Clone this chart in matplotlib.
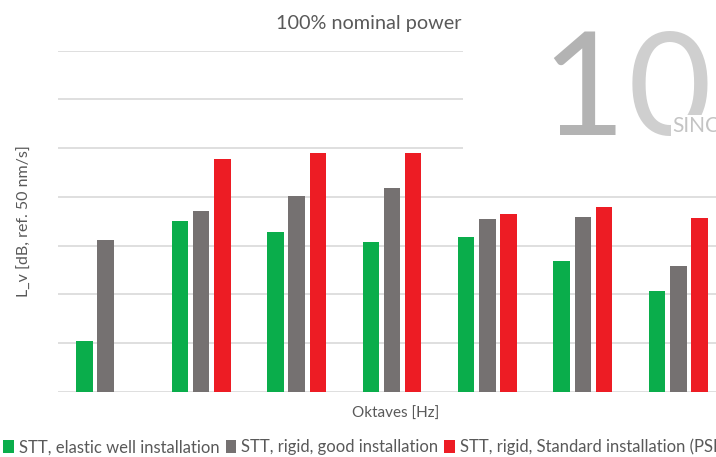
import numpy as np
import matplotlib
matplotlib.use('Agg')
from matplotlib import pyplot as plt
from matplotlib.patches import Rectangle

plt.rcParams['font.family'] = ['Lato', 'DejaVu Sans']

octaves = ['63', '125', '250', '500', '1000', '2000', '4000']
elastic_well = [10.4, 35.0, 32.7, 30.7, 31.8, 26.9, 20.7]
rigid_good = [31.1, 37.0, 40.1, 41.9, 35.4, 35.9, 25.9]
rigid_standard = [np.nan, 47.7, 49.0, 49.1, 36.4, 37.9, 35.7]

labels = ['STT, elastic well installation',
          'STT, rigid, good installation',
          'STT, rigid, Standard installation (PSI)']
colors = ['#0aad4b', '#757171', '#ed1c24']

fig = plt.figure(figsize=(7.16, 4.57), dpi=100)
ax = fig.add_axes([58/716, 65.3/457, 668/716, 341/457])

x = np.arange(len(octaves))
w = 0.173
step = 0.222
for i, (vals, lab, col) in enumerate(zip([elastic_well, rigid_good, rigid_standard], labels, colors)):
    ax.bar(x + (i - 1)*step, vals, width=w, color=col, label=lab, zorder=3)

ax.set_xlim(-0.5, 6.5)
ax.set_ylim(0, 70)
ax.set_yticks(np.arange(0, 71, 10))
ax.yaxis.grid(True, color='#d9d9d9', linewidth=1.2, zorder=0)
ax.set_xticks(x, octaves)
ax.tick_params(labelbottom=False, labelleft=False, length=0)
for s in ax.spines.values():
    s.set_visible(False)

fig.text(25/716, 1 - 221/457, 'L_v [dB, ref. 50 nm/s]', rotation=90,
         ha='center', va='center', fontsize=11.5, color='#595959')
fig.text(396/716, 1 - 414/457, 'Oktaves [Hz]', ha='center', va='center',
         fontsize=11, color='#595959')
fig.text(369/716, 1 - 23/457, '100% nominal power', ha='center', va='center',
         fontsize=14.3, color='#595959')

fig.legend(loc='center left', bbox_to_anchor=(0.0, 1 - 447/457), ncol=3,
           frameon=False, fontsize=12, handlelength=0.65, handleheight=0.75,
           handletextpad=0.3, columnspacing=0.35, borderaxespad=0, borderpad=0.2,
           labelcolor='#595959')

# logo pasted over the top right corner
fig.add_artist(Rectangle((463/716, 1 - 152/457), 1, 1, transform=fig.transFigure,
                         facecolor='white', edgecolor='none', zorder=5))
fig.text(541/716, 1 - 135/457, '1', fontsize=104, fontweight='normal',
         color='#b3b3b3', ha='left', va='baseline', zorder=6)
fig.text(628/716, 1 - 135/457, '0', fontsize=104, fontweight='normal',
         color='#cfcfcf', ha='left', va='baseline', zorder=6)
fig.text(672/716, 1 - 132/457, 'SINCE', fontsize=15, color='#c4c4c4',
         ha='left', va='baseline', zorder=7,
         bbox=dict(facecolor='white', edgecolor='none', pad=1))

fig.savefig('out.png', dpi=100)
